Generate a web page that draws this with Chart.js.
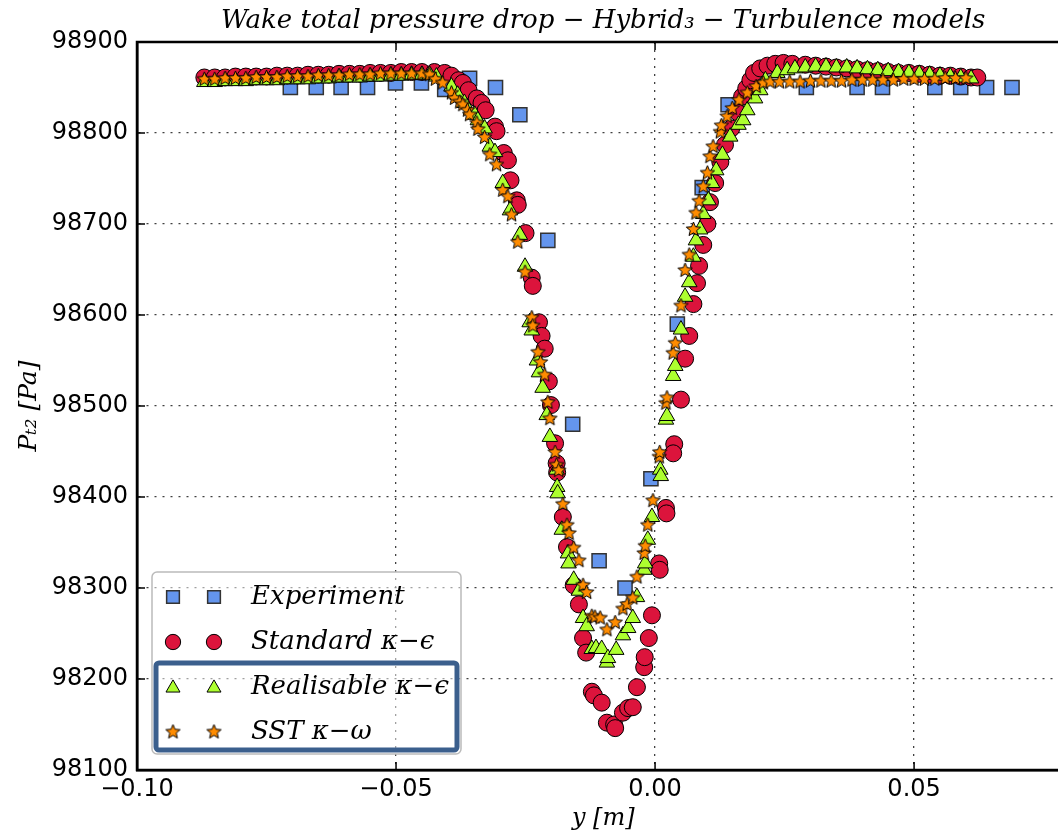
<!DOCTYPE html>
<html>
<head>
<meta charset="utf-8">
<script src="https://cdn.jsdelivr.net/npm/chart.js@4.4.1/dist/chart.umd.min.js"></script>
<style>
  html, body { margin: 0; padding: 0; background: #fff; overflow: hidden; }
  #wrap { width: 1058px; height: 833px; overflow: hidden; }
</style>
</head>
<body>
<div id="wrap"><canvas id="wakeChart" width="1081" height="833"></canvas></div>
<script>
// Wake total pressure drop
const seriesNames = ['Experiment', 'Standard \u03BA\u2212\u03F5', 'Realisable \u03BA\u2212\u03F5', 'SST \u03BA\u2212\u03C9'];
const xTicks = [-0.10, -0.05, 0.00, 0.05];

const expX = [-0.0704, -0.0654, -0.0606, -0.0555, -0.0501, -0.0451, -0.0406, -0.0358, -0.0308, -0.0261,
  -0.0207, -0.0159, -0.0108, -0.0058, -0.0008, 0.0043, 0.0091, 0.0141, 0.0292, 0.0390,
  0.0439, 0.0540, 0.0590, 0.0640, 0.0689];
const expP = [98850, 98850, 98850, 98850, 98855, 98855, 98848, 98860, 98850, 98820,
  98682, 98480, 98330, 98300, 98420, 98590, 98740, 98831, 98850, 98850,
  98850, 98850, 98850, 98850, 98850];

const stdX = [-0.0870, -0.0850, -0.0830, -0.0810, -0.0790, -0.0770, -0.0750, -0.0730, -0.0710, -0.0690,
  -0.0670, -0.0650, -0.0630, -0.0610, -0.0590, -0.0570, -0.0550, -0.0530, -0.0510, -0.0490,
  -0.0470, -0.0450, -0.0426, -0.0406, -0.0393, -0.0379, -0.0371, -0.0360, -0.0344, -0.0335,
  -0.0327, -0.0309, -0.0306, -0.0292, -0.0284, -0.0279, -0.0267, -0.0265, -0.0250, -0.0238,
  -0.0236, -0.0224, -0.0219, -0.0213, -0.0205, -0.0201, -0.0193, -0.0190, -0.0189, -0.0178,
  -0.0170, -0.0157, -0.0147, -0.0139, -0.0133, -0.0122, -0.0118, -0.0103, -0.0093, -0.0079,
  -0.0077, -0.0062, -0.0052, -0.0043, -0.0035, -0.0021, -0.0020, -0.0012, -0.0006, 0.0008,
  0.0009, 0.0021, 0.0022, 0.0037, 0.0035, 0.0050, 0.0058, 0.0066, 0.0074, 0.0081,
  0.0085, 0.0093, 0.0101, 0.0106, 0.0116, 0.0126, 0.0135, 0.0147, 0.0159, 0.0168,
  0.0176, 0.0184, 0.0191, 0.0203, 0.0217, 0.0232, 0.0248, 0.0265, 0.0290, 0.0310,
  0.0330, 0.0350, 0.0370, 0.0390, 0.0410, 0.0430, 0.0450, 0.0470, 0.0490, 0.0510,
  0.0530, 0.0550, 0.0570, 0.0590, 0.0610, 0.0622];
const stdP = [98861, 98861, 98861, 98862, 98862, 98862, 98862, 98863, 98863, 98863,
  98864, 98864, 98864, 98865, 98865, 98865, 98866, 98866, 98866, 98867,
  98867, 98867, 98867, 98866, 98863, 98858, 98855, 98847, 98838, 98833,
  98825, 98807, 98802, 98778, 98770, 98748, 98726, 98721, 98690, 98641,
  98632, 98592, 98577, 98563, 98527, 98501, 98459, 98437, 98427, 98378,
  98345, 98303, 98282, 98245, 98229, 98186, 98182, 98174, 98152, 98150,
  98146, 98163, 98168, 98169, 98191, 98213, 98224, 98245, 98270, 98327,
  98320, 98388, 98382, 98458, 98448, 98507, 98552, 98577, 98612, 98635,
  98654, 98677, 98700, 98724, 98745, 98768, 98787, 98805, 98823, 98840,
  98849, 98858, 98866, 98871, 98874, 98876, 98877, 98876, 98875, 98874,
  98873, 98872, 98871, 98870, 98869, 98868, 98867, 98866, 98866, 98865,
  98864, 98863, 98863, 98862, 98861, 98861];

const realX = [-0.0870, -0.0850, -0.0830, -0.0810, -0.0790, -0.0770, -0.0750, -0.0730, -0.0710, -0.0690,
  -0.0670, -0.0650, -0.0630, -0.0610, -0.0590, -0.0570, -0.0550, -0.0530, -0.0510, -0.0490,
  -0.0470, -0.0450, -0.0435, -0.0422, -0.0393, -0.0381, -0.0368, -0.0348, -0.0342, -0.0329,
  -0.0319, -0.0309, -0.0294, -0.0280, -0.0261, -0.0251, -0.0242, -0.0238, -0.0228, -0.0224,
  -0.0217, -0.0209, -0.0203, -0.0190, -0.0189, -0.0188, -0.0180, -0.0168, -0.0167, -0.0157,
  -0.0147, -0.0139, -0.0132, -0.0122, -0.0114, -0.0103, -0.0093, -0.0091, -0.0075, -0.0062,
  -0.0052, -0.0043, -0.0035, -0.0021, -0.0019, -0.0014, -0.0006, 0.0010, 0.0011, 0.0021,
  0.0023, 0.0035, 0.0039, 0.0050, 0.0058, 0.0066, 0.0074, 0.0079, 0.0087, 0.0093,
  0.0103, 0.0110, 0.0118, 0.0130, 0.0145, 0.0161, 0.0170, 0.0178, 0.0193, 0.0203,
  0.0213, 0.0236, 0.0255, 0.0270, 0.0290, 0.0310, 0.0330, 0.0350, 0.0370, 0.0390,
  0.0410, 0.0430, 0.0450, 0.0470, 0.0490, 0.0510, 0.0530, 0.0550, 0.0570, 0.0590,
  0.0610];
const realP = [98856, 98856, 98857, 98857, 98857, 98858, 98858, 98858, 98859, 98859,
  98859, 98860, 98860, 98861, 98861, 98861, 98862, 98862, 98863, 98863,
  98864, 98864, 98864, 98862, 98851, 98842, 98833, 98820, 98814, 98805,
  98785, 98779, 98745, 98715, 98688, 98653, 98592, 98583, 98550, 98537,
  98520, 98490, 98466, 98430, 98411, 98404, 98364, 98338, 98327, 98309,
  98297, 98267, 98258, 98233, 98234, 98233, 98218, 98223, 98232, 98248,
  98256, 98267, 98290, 98320, 98327, 98353, 98378, 98430, 98423, 98485,
  98489, 98533, 98544, 98584, 98620, 98636, 98664, 98682, 98694, 98711,
  98726, 98745, 98759, 98776, 98796, 98809, 98814, 98825, 98838, 98847,
  98858, 98866, 98869, 98871, 98872, 98873, 98873, 98872, 98872, 98871,
  98870, 98869, 98868, 98867, 98866, 98865, 98864, 98863, 98862, 98861,
  98860];

const sstX = [-0.0870, -0.0850, -0.0830, -0.0810, -0.0790, -0.0770, -0.0750, -0.0730, -0.0710, -0.0690,
  -0.0670, -0.0650, -0.0630, -0.0610, -0.0590, -0.0570, -0.0550, -0.0530, -0.0510, -0.0490,
  -0.0470, -0.0450, -0.0435, -0.0424, -0.0410, -0.0393, -0.0387, -0.0377, -0.0371, -0.0362,
  -0.0358, -0.0344, -0.0342, -0.0329, -0.0319, -0.0306, -0.0294, -0.0284, -0.0277, -0.0265,
  -0.0251, -0.0238, -0.0236, -0.0226, -0.0221, -0.0213, -0.0207, -0.0203, -0.0193, -0.0190,
  -0.0186, -0.0178, -0.0170, -0.0166, -0.0157, -0.0147, -0.0139, -0.0132, -0.0122, -0.0116,
  -0.0106, -0.0093, -0.0077, -0.0062, -0.0054, -0.0043, -0.0035, -0.0021, -0.0019, -0.0014,
  -0.0004, 0.0008, 0.0009, 0.0021, 0.0023, 0.0035, 0.0039, 0.0050, 0.0058, 0.0066,
  0.0074, 0.0079, 0.0085, 0.0093, 0.0101, 0.0106, 0.0112, 0.0126, 0.0128, 0.0139,
  0.0149, 0.0162, 0.0178, 0.0195, 0.0209, 0.0222, 0.0240, 0.0260, 0.0280, 0.0300,
  0.0320, 0.0340, 0.0360, 0.0380, 0.0400, 0.0420, 0.0440, 0.0460, 0.0480, 0.0500,
  0.0520, 0.0540, 0.0560, 0.0580, 0.0600];
const sstP = [98859, 98859, 98860, 98860, 98860, 98861, 98861, 98861, 98862, 98862,
  98862, 98863, 98863, 98863, 98864, 98864, 98864, 98865, 98865, 98865,
  98865, 98865, 98864, 98859, 98855, 98844, 98838, 98834, 98831, 98825,
  98820, 98811, 98804, 98795, 98776, 98765, 98737, 98730, 98710, 98680,
  98647, 98597, 98588, 98559, 98548, 98534, 98504, 98486, 98449, 98435,
  98429, 98392, 98369, 98360, 98344, 98330, 98303, 98295, 98269, 98268,
  98267, 98254, 98262, 98277, 98282, 98289, 98312, 98338, 98346, 98369,
  98396, 98444, 98449, 98503, 98509, 98558, 98569, 98610, 98649, 98666,
  98694, 98712, 98725, 98741, 98756, 98774, 98785, 98801, 98808, 98818,
  98827, 98836, 98844, 98851, 98855, 98856, 98856, 98856, 98856, 98857,
  98857, 98857, 98857, 98858, 98858, 98858, 98858, 98858, 98859, 98859,
  98859, 98859, 98860, 98860, 98860];

function makeStar(r, fill) {
  const c = document.createElement('canvas');
  const s = Math.ceil(r * 2 + 4);
  c.width = s; c.height = s;
  const g = c.getContext('2d');
  g.beginPath();
  for (let i = 0; i < 10; i++) {
    const rr = i % 2 ? r * 0.45 : r;
    const a = -Math.PI / 2 + i * Math.PI / 5;
    g.lineTo(s / 2 + rr * Math.cos(a), s / 2 + rr * Math.sin(a));
  }
  g.closePath();
  g.fillStyle = fill;
  g.fill();
  g.lineWidth = 1;
  g.strokeStyle = '#000';
  g.stroke();
  return c;
}

function toPoints(xs, ys) {
  return xs.map((x, i) => ({ x: x, y: ys[i] }));
}

const starImg = makeStar(7.5, '#FF8C00');

const datasets = [
  { label: seriesNames[0], data: toPoints(expX, expP), pointStyle: 'rect', pointRadius: 10,
    backgroundColor: '#6495ED', borderColor: '#333', borderWidth: 1.5, order: 4 },
  { label: seriesNames[1], data: toPoints(stdX, stdP), pointStyle: 'circle', pointRadius: 8.5,
    backgroundColor: '#DC143C', borderColor: '#000', borderWidth: 1, order: 3 },
  { label: seriesNames[2], data: toPoints(realX, realP), pointStyle: 'triangle', pointRadius: 9,
    backgroundColor: '#ADFF2F', borderColor: '#000', borderWidth: 1, order: 2 },
  { label: seriesNames[3], data: toPoints(sstX, sstP), pointStyle: starImg, pointRadius: 7,
    backgroundColor: '#FF8C00', borderColor: '#000', borderWidth: 1, order: 1 }
];

function legendMarker(ctx, ds, x, y) {
  const ps = ds.pointStyle;
  if (typeof ps === 'object') {
    ctx.drawImage(ps, x - ps.width / 2, y - ps.height / 2);
    return;
  }
  const r = ds.pointRadius * 0.9;
  ctx.fillStyle = ds.backgroundColor;
  ctx.strokeStyle = ds.borderColor;
  ctx.lineWidth = ds.borderWidth;
  ctx.beginPath();
  if (ps === 'rect') {
    const h = r * Math.SQRT1_2;
    ctx.rect(x - h, y - h, 2 * h, 2 * h);
  } else if (ps === 'circle') {
    ctx.arc(x, y, r, 0, Math.PI * 2);
  } else {
    for (let k = 0; k < 3; k++) {
      const a = -Math.PI / 2 + k * 2 * Math.PI / 3;
      ctx.lineTo(x + r * Math.cos(a), y + r * Math.sin(a) + 1);
    }
    ctx.closePath();
  }
  ctx.fill();
  ctx.stroke();
}

// frame, inward ticks, title and legend (matplotlib look)
const decorations = {
  id: 'decorations',
  afterDraw(chart) {
    const { ctx, chartArea: a, scales } = chart;
    ctx.save();
    ctx.strokeStyle = '#000';
    ctx.lineWidth = 1.5;
    ctx.beginPath();
    scales.x.ticks.forEach(t => {
      const px = scales.x.getPixelForValue(t.value);
      ctx.moveTo(px, a.bottom); ctx.lineTo(px, a.bottom - 8);
      ctx.moveTo(px, a.top); ctx.lineTo(px, a.top + 8);
    });
    scales.y.ticks.forEach(t => {
      const py = scales.y.getPixelForValue(t.value);
      ctx.moveTo(a.left, py); ctx.lineTo(a.left + 8, py);
      ctx.moveTo(a.right, py); ctx.lineTo(a.right - 8, py);
    });
    ctx.stroke();
    ctx.lineWidth = 2.5;
    ctx.strokeRect(a.left, a.top, a.right - a.left, a.bottom - a.top);

    // title
    ctx.fillStyle = '#000';
    ctx.font = 'italic 26px "DejaVu Serif"';
    ctx.textAlign = 'center';
    ctx.textBaseline = 'middle';
    ctx.fillText('Wake total pressure drop \u2212 Hybrid\u2083 \u2212 Turbulence models', (a.left + a.right) / 2, 21);

    // legend
    const bx = a.left + 15, bw = 309, bh = 182, by = a.bottom - 16 - bh;
    ctx.fillStyle = 'rgba(255,255,255,0.5)';
    ctx.strokeStyle = '#bbb';
    ctx.lineWidth = 1.5;
    ctx.beginPath();
    ctx.roundRect(bx, by, bw, bh, 5);
    ctx.fill();
    ctx.stroke();
    datasets.forEach((ds, i) => {
      const ry = by + 25 + i * 45;
      legendMarker(ctx, ds, bx + 21, ry);
      legendMarker(ctx, ds, bx + 62, ry);
      ctx.fillStyle = '#000';
      ctx.font = 'italic 26px "DejaVu Serif"';
      ctx.textAlign = 'left';
      ctx.textBaseline = 'middle';
      ctx.fillText(ds.label, bx + 99, ry);
    });
    // highlight box round the last two entries
    ctx.strokeStyle = '#3B5F8D';
    ctx.lineWidth = 5;
    ctx.beginPath();
    ctx.roundRect(bx + 4, by + 91, bw - 8, 87, 3);
    ctx.stroke();
    ctx.restore();
  }
};

const ctx = document.getElementById('wakeChart').getContext('2d');
new Chart(ctx, {
  type: 'scatter',
  data: { datasets: datasets },
  options: {
    responsive: false,
    animation: false,
    layout: { padding: { top: 42, right: 2, left: 0, bottom: 0 } },
    plugins: {
      legend: { display: false },
      tooltip: { enabled: false },
      title: { display: false }
    },
    scales: {
      x: {
        type: 'linear',
        min: -0.10,
        max: 0.08,
        afterBuildTicks: axis => { axis.ticks = xTicks.map(v => ({ value: v })); },
        afterFit: scale => { scale.height = 63; },
        grid: { color: 'rgba(0,0,0,0.75)', lineWidth: 1.3, drawTicks: false },
        border: { color: '#000', width: 2.5, dash: [2, 6] },
        ticks: {
          color: '#000',
          padding: 5,
          maxRotation: 0,
          font: { family: 'DejaVu Sans', size: 24 },
          callback: v => v.toFixed(2).replace('-', '\u2212')
        },
        title: {
          display: true,
          text: 'y [m]',
          color: '#000',
          padding: { top: 0, bottom: 0 },
          font: { family: 'DejaVu Serif', style: 'italic', size: 24 }
        }
      },
      y: {
        min: 98100,
        max: 98900,
        afterFit: scale => { scale.width = 137; },
        grid: { color: 'rgba(0,0,0,0.75)', lineWidth: 1.3, drawTicks: false },
        border: { color: '#000', width: 2.5, dash: [2, 6] },
        ticks: {
          stepSize: 100,
          color: '#000',
          padding: 9,
          font: { family: 'DejaVu Sans', size: 24 },
          callback: v => String(v)
        },
        title: {
          display: true,
          text: 'P\u209C\u2082 [Pa]',
          color: '#000',
          padding: { top: 14, bottom: 0 },
          font: { family: 'DejaVu Serif', style: 'italic', size: 25 }
        }
      }
    }
  },
  plugins: [decorations]
});
</script>
</body>
</html>
